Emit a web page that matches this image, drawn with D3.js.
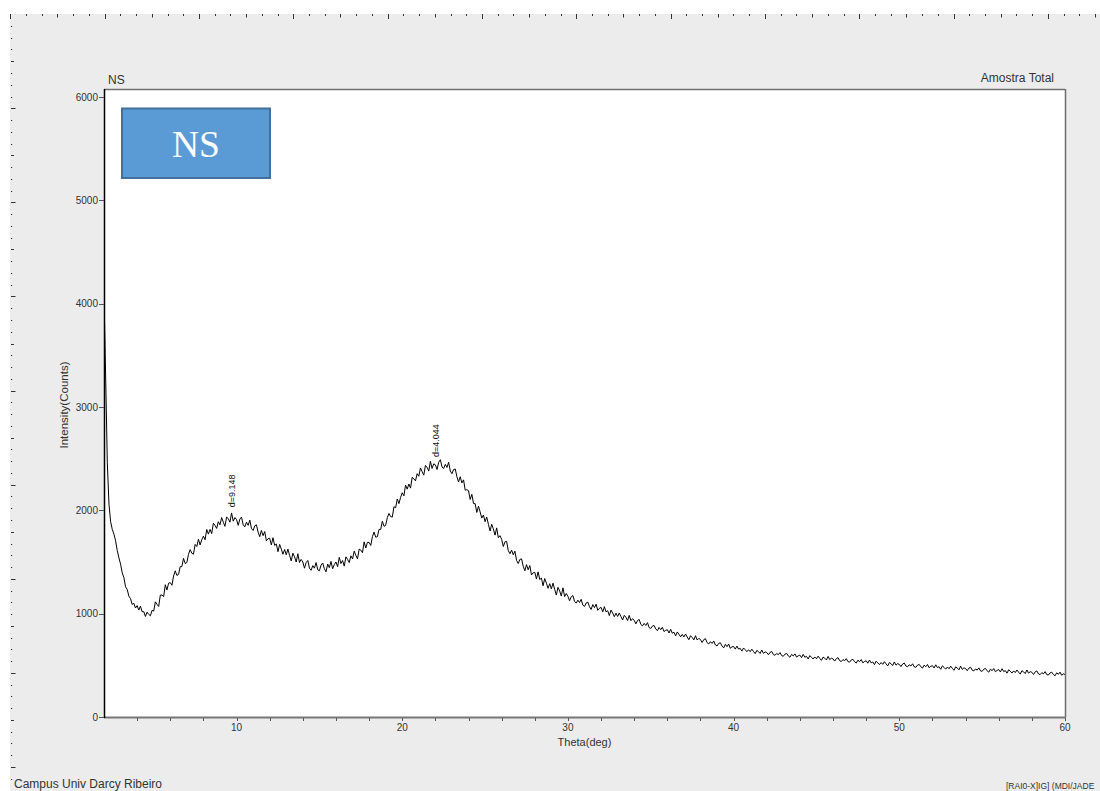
<!DOCTYPE html>
<html>
<head>
<meta charset="utf-8">
<script src="https://cdn.jsdelivr.net/npm/d3@7"></script>
<style>
  html, body { margin: 0; padding: 0; background: #ffffff; }
  svg { display: block; }
</style>
</head>
<body>
<svg id="chart" width="1100" height="791"></svg>
<script>
// ---------------- DATA ----------------
const sampleTitle = "NS";
const sampleTag = "Amostra Total";
const xLabel = "Theta(deg)";
const yLabel = "Intensity(Counts)";
const footerLeft = "Campus Univ Darcy Ribeiro";
const footerRight = "[RAI0-X]IG] (MDI/JADE";

const thetaStart = 2.0;   // scan start (deg)
const thetaStep = 0.1;    // scan step (deg)

// Intensity, one value per 0.1 deg, rows = 1 deg
const counts = [
  4080, 3290, 2460, 2060, 1890, 1815, 1770, 1705, 1610, 1540, // 2
  1480, 1395, 1350, 1260, 1235, 1170, 1145, 1090, 1100, 1055, // 3
  1078, 1035, 1073, 1019, 1019, 973, 1014, 993, 979, 1032,    // 4
  1025, 1115, 1090, 1070, 1180, 1180, 1165, 1280, 1230, 1295, // 5
  1300, 1275, 1365, 1415, 1370, 1380, 1455, 1455, 1535, 1485, // 6
  1495, 1575, 1620, 1585, 1575, 1670, 1650, 1720, 1665, 1715, // 7
  1750, 1715, 1815, 1770, 1815, 1775, 1875, 1855, 1825, 1890, // 8
  1860, 1930, 1885, 1845, 1935, 1920, 1885, 1975, 1895, 1930, // 9
  1910, 1855, 1915, 1935, 1860, 1840, 1885, 1855, 1905, 1825, // 10
  1805, 1850, 1860, 1790, 1745, 1805, 1755, 1795, 1705, 1725, // 11
  1730, 1665, 1735, 1660, 1675, 1600, 1670, 1625, 1575, 1620, // 12
  1570, 1625, 1565, 1510, 1585, 1550, 1500, 1580, 1495, 1525, // 13
  1500, 1440, 1495, 1515, 1440, 1420, 1465, 1440, 1495, 1425, // 14
  1415, 1470, 1490, 1435, 1405, 1480, 1445, 1505, 1435, 1475, // 15
  1500, 1455, 1545, 1485, 1515, 1460, 1550, 1525, 1495, 1560, // 16
  1530, 1605, 1565, 1530, 1625, 1615, 1590, 1695, 1635, 1690, // 17
  1690, 1660, 1745, 1790, 1740, 1745, 1815, 1815, 1895, 1845, // 18
  1855, 1930, 1970, 1940, 1935, 2035, 2025, 2110, 2065, 2125, // 19
  2170, 2140, 2245, 2205, 2255, 2215, 2320, 2305, 2285, 2355, // 20
  2330, 2410, 2375, 2340, 2435, 2415, 2380, 2475, 2405, 2450, // 21
  2440, 2395, 2465, 2490, 2420, 2405, 2445, 2415, 2465, 2380, // 22
  2355, 2395, 2400, 2325, 2275, 2325, 2265, 2295, 2195, 2200, // 23
  2190, 2105, 2155, 2065, 2065, 1980, 2040, 1985, 1925, 1955, // 24
  1890, 1935, 1865, 1800, 1865, 1820, 1760, 1830, 1735, 1755, // 25
  1720, 1650, 1695, 1700, 1610, 1580, 1615, 1570, 1605, 1515, // 26
  1485, 1525, 1530, 1460, 1415, 1475, 1425, 1465, 1375, 1395, // 27
  1400, 1335, 1405, 1330, 1345, 1270, 1340, 1295, 1245, 1290, // 28
  1240, 1295, 1235, 1180, 1255, 1220, 1170, 1250, 1165, 1195, // 29
  1167, 1125, 1164, 1175, 1119, 1102, 1131, 1107, 1139, 1083, // 30
  1070, 1103, 1112, 1067, 1041, 1088, 1058, 1091, 1033, 1052, // 31
  1061, 1017, 1068, 1017, 1029, 981, 1035, 1006, 971, 1005,   // 32
  973, 1007, 971, 939, 984, 964, 934, 983, 932, 951,          // 33
  936, 901, 934, 944, 896, 882, 906, 886, 913, 866,           // 34
  857, 880, 886, 853, 835, 867, 845, 868, 827, 839,           // 35
  845, 813, 849, 811, 820, 785, 823, 801, 776, 799,           // 36
  775, 803, 774, 748, 787, 770, 746, 787, 745, 761,           // 37
  750, 721, 749, 758, 719, 707, 729, 712, 735, 697,           // 38
  687, 712, 718, 687, 669, 703, 681, 706, 665, 679,           // 39
  682, 657, 686, 657, 664, 637, 668, 651, 632, 651,           // 40
  632, 656, 634, 613, 645, 633, 615, 648, 616, 630,           // 41
  624, 602, 626, 634, 604, 597, 615, 603, 623, 594,           // 42
  588, 608, 615, 591, 578, 606, 591, 611, 580, 592,           // 43
  599, 575, 606, 578, 587, 561, 594, 578, 561, 581,           // 44
  564, 589, 567, 548, 580, 569, 552, 586, 555, 569,           // 45
  562, 541, 565, 574, 545, 537, 556, 545, 565, 536,           // 46
  531, 552, 558, 535, 522, 550, 535, 556, 524, 537,           // 47
  544, 521, 551, 524, 532, 507, 540, 524, 507, 527,           // 48
  510, 535, 514, 494, 527, 516, 498, 533, 502, 516,           // 49
  509, 488, 513, 522, 493, 486, 505, 494, 515, 486,           // 50
  481, 502, 509, 486, 473, 502, 487, 508, 477, 490,           // 51
  497, 474, 505, 478, 487, 462, 495, 480, 463, 484,           // 52
  467, 492, 471, 452, 485, 474, 457, 492, 461, 476,           // 53
  469, 448, 473, 482, 453, 446, 465, 454, 475, 446,           // 54
  442, 463, 470, 447, 434, 463, 448, 469, 438, 451,           // 55
  459, 436, 467, 440, 449, 424, 457, 442, 425, 446,           // 56
  430, 455, 434, 415, 448, 437, 420, 455, 424, 439,           // 57
  433, 412, 437, 446, 417, 410, 429, 418, 439, 410,           // 58
  406, 427, 434, 411, 399, 428, 413, 434, 404, 417,           // 59
  412                                                         // 60
];

// Peak annotations
const peakTheta = [9.66, 21.96];
const peakLabelCounts = [2030, 2515];
const peakLabels = ["d=9.148", "d=4.044"];

// Axis ticks
const yTicks = [0, 1000, 2000, 3000, 4000, 5000, 6000];
const xMinorTicks = [4, 6, 8, 10, 12, 14, 16, 18, 20, 22, 24, 26, 28, 30, 32, 34, 36, 38, 40,
                     42, 44, 46, 48, 50, 52, 54, 56, 58, 60];
const xLabelTicks = [10, 20, 30, 40, 50, 60];

// ---------------- DRAW ----------------
const svg = d3.select("#chart");
const W = 1100, H = 791;
const font = "Arial, 'Liberation Sans', sans-serif";

// page background
svg.append("rect").attr("x", 10).attr("y", 14).attr("width", W - 10).attr("height", H - 14).attr("fill", "#ececec");

// rulers (decoration)
const rulerTop = svg.append("g").attr("stroke", "#333").attr("stroke-width", 1);
for (let i = 0; ; i++) {
  const xx = 10.3 + i * 94.33 / 6;
  if (xx > W) break;
  const len = i % 6 === 0 ? 5 : (i % 3 === 0 ? 3.5 : 2);
  rulerTop.append("line").attr("x1", Math.round(xx) + 0.5).attr("x2", Math.round(xx) + 0.5)
    .attr("y1", 14).attr("y2", 14 + len);
}
const rulerLeft = svg.append("g").attr("stroke", "#333").attr("stroke-width", 1);
for (let i = 1; ; i++) {
  const yy = 14.2 + i * 94.1 / 8;
  if (yy > H) break;
  const len = i % 8 === 0 ? 4.5 : (i % 4 === 0 ? 3 : 1.2);
  rulerLeft.append("line").attr("y1", Math.round(yy) + 0.5).attr("y2", Math.round(yy) + 0.5)
    .attr("x1", 11).attr("x2", 11 + len);
}

const x = d3.scaleLinear().domain([2, 60]).range([104, 1065]);
const y = d3.scaleLinear().domain([0, 6000]).range([717, 97]);
const plotTop = 89;

// plot area
svg.append("rect").attr("x", x(2)).attr("y", plotTop).attr("width", x(60) - x(2)).attr("height", y(0) - plotTop)
  .attr("fill", "#ffffff");

// clip
svg.append("clipPath").attr("id", "clip").append("rect")
  .attr("x", x(2)).attr("y", plotTop).attr("width", x(60) - x(2)).attr("height", y(0) - plotTop);

// data line
const data = counts.map((c, i) => ({ t: thetaStart + i * thetaStep, c }));
const line = d3.line().x(d => x(d.t)).y(d => y(d.c));
svg.append("path").datum(data).attr("clip-path", "url(#clip)")
  .attr("d", line).attr("fill", "none").attr("stroke", "#000").attr("stroke-width", 1)
  .attr("stroke-linejoin", "miter");

// frame: top and right borders
svg.append("line").attr("x1", x(2)).attr("x2", x(60)).attr("y1", plotTop + 0.5).attr("y2", plotTop + 0.5)
  .attr("stroke", "#6e6e6e").attr("stroke-width", 1.5);
svg.append("line").attr("x1", x(60) + 0.5).attr("x2", x(60) + 0.5).attr("y1", plotTop).attr("y2", y(0))
  .attr("stroke", "#6e6e6e").attr("stroke-width", 1.5);

// X axis
const xAxis = svg.append("g").attr("transform", `translate(0,${y(0)})`);
xAxis.append("line").attr("x1", x(2)).attr("x2", x(60) + 1).attr("y1", 0.5).attr("y2", 0.5)
  .attr("stroke", "#777").attr("stroke-width", 2);
xAxis.selectAll("line.tick").data(xMinorTicks).join("line").attr("class", "tick")
  .attr("x1", d => Math.round(x(d)) + 0.5).attr("x2", d => Math.round(x(d)) + 0.5)
  .attr("y1", 1).attr("y2", 4).attr("stroke", "#555").attr("stroke-width", 1);
xAxis.selectAll("text").data(xLabelTicks).join("text")
  .attr("x", d => x(d)).attr("y", 14).attr("text-anchor", "middle")
  .attr("font-family", font).attr("font-size", 10).attr("fill", "#333").text(d => d);

// Y axis
const yAxis = svg.append("g");
yAxis.append("line").attr("x1", x(2) + 0.5).attr("x2", x(2) + 0.5).attr("y1", plotTop).attr("y2", y(0) + 1)
  .attr("stroke", "#000").attr("stroke-width", 1.5);
yAxis.selectAll("line.tick").data(yTicks).join("line").attr("class", "tick")
  .attr("x1", x(2) - 5).attr("x2", x(2))
  .attr("y1", d => Math.round(y(d)) + 0.5).attr("y2", d => Math.round(y(d)) + 0.5)
  .attr("stroke", "#555").attr("stroke-width", 1);
yAxis.selectAll("text").data(yTicks).join("text")
  .attr("x", x(2) - 6).attr("y", d => y(d)).attr("dy", "0.35em").attr("text-anchor", "end")
  .attr("font-family", font).attr("font-size", 10).attr("fill", "#333").text(d => d);

// axis titles
svg.append("text").attr("x", (x(2) + x(60)) / 2).attr("y", 746).attr("text-anchor", "middle")
  .attr("font-family", font).attr("font-size", 11).attr("fill", "#333").text(xLabel);
svg.append("text").attr("transform", `translate(68,${(plotTop + y(0)) / 2 + 2}) rotate(-90)`)
  .attr("text-anchor", "middle").attr("font-family", font).attr("font-size", 11.5).attr("fill", "#333")
  .text(yLabel);

// header texts
svg.append("text").attr("x", 108).attr("y", 84).attr("font-family", font).attr("font-size", 12)
  .attr("fill", "#333").text(sampleTitle);
svg.append("text").attr("x", 1054).attr("y", 82).attr("text-anchor", "end").attr("font-family", font)
  .attr("font-size", 12).attr("fill", "#333").text(sampleTag);

// footer texts
svg.append("text").attr("x", 14).attr("y", 788).attr("font-family", font).attr("font-size", 12)
  .attr("fill", "#333").text(footerLeft);
svg.append("text").attr("x", 1006).attr("y", 789).attr("font-family", font).attr("font-size", 8.5)
  .attr("fill", "#333").text(footerRight);

// peak labels
svg.selectAll("text.peak").data(peakTheta).join("text").attr("class", "peak")
  .attr("transform", (d, i) => `translate(${x(d) + 4},${y(peakLabelCounts[i])}) rotate(-90)`)
  .attr("font-family", font).attr("font-size", 9).attr("fill", "#111")
  .text((d, i) => peakLabels[i]);

// NS legend box
const box = svg.append("g");
box.append("rect").attr("x", 122).attr("y", 108.5).attr("width", 148).attr("height", 69.5)
  .attr("fill", "#5b9bd5").attr("stroke", "#41719c").attr("stroke-width", 2);
box.append("text").attr("x", 196).attr("y", 157).attr("text-anchor", "middle")
  .attr("font-family", "'Liberation Serif', 'Times New Roman', serif").attr("font-size", 37.5)
  .attr("fill", "#ffffff").text(sampleTitle);
</script>
</body>
</html>
